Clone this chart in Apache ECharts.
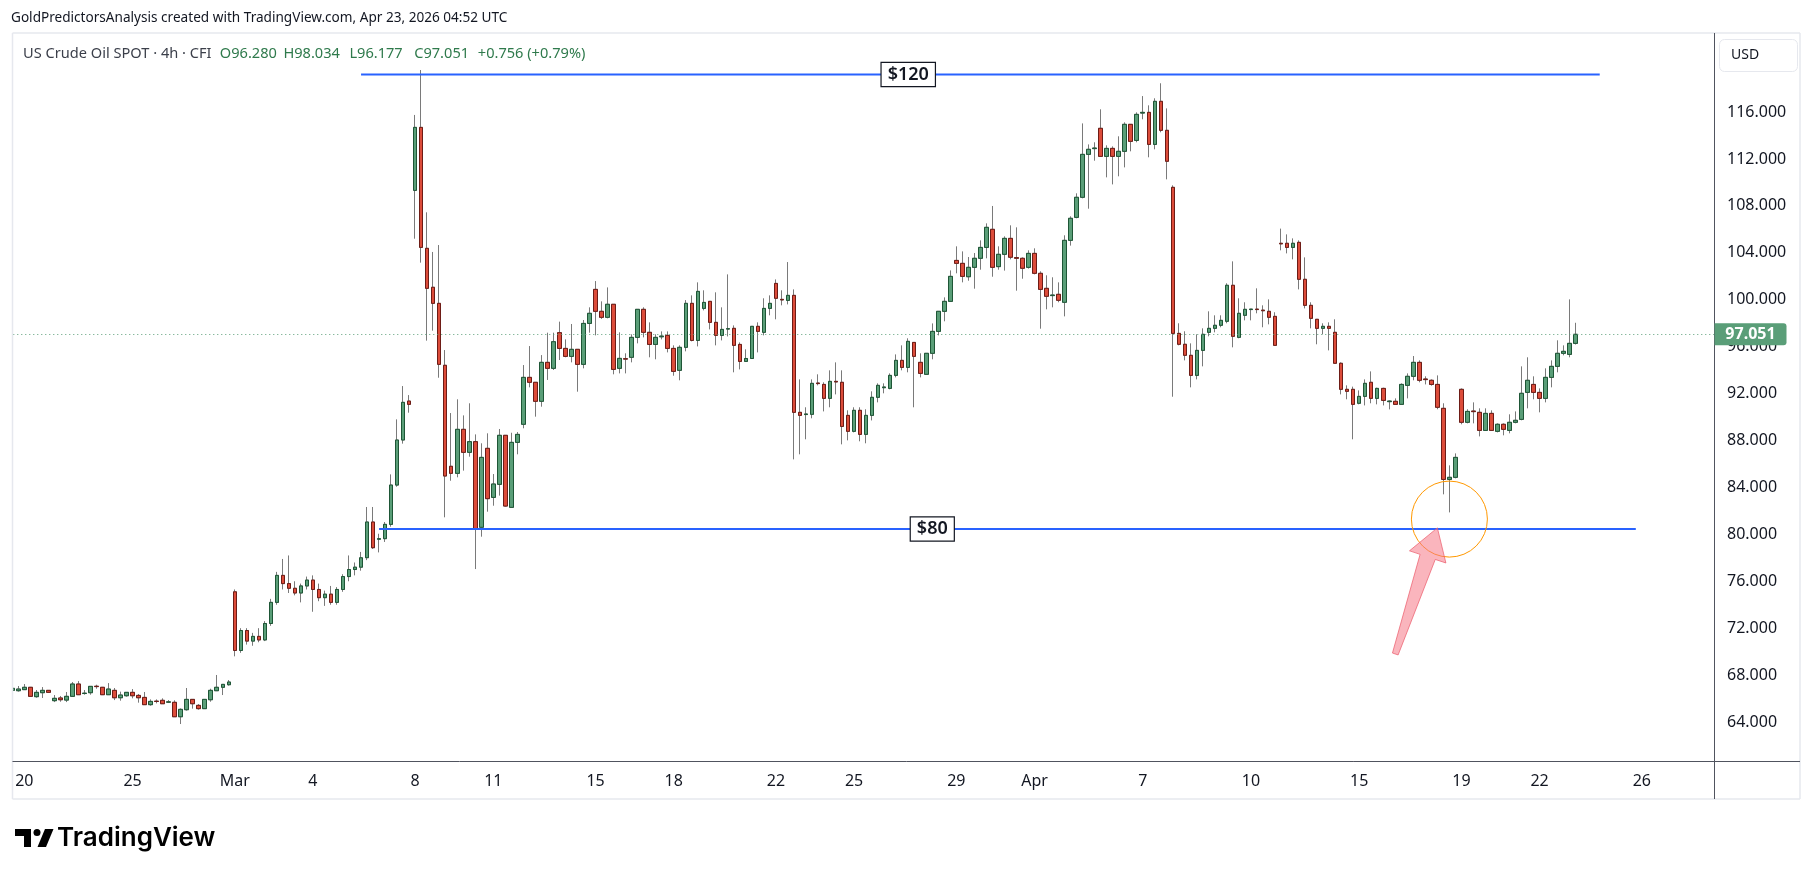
<!DOCTYPE html>
<html><head><meta charset="utf-8">
<script src="https://cdn.jsdelivr.net/npm/echarts@6/dist/echarts.min.js"></script>
<style>html,body{margin:0;padding:0;background:#fff;}#c{width:1814px;height:877px;}</style>
</head><body><div id="c"></div>
<script>
// ---- data (4h candles, bar index 0 = Feb 19/20) ----
const openP = [
66.70,66.67,66.76,66.96,66.16,66.50,66.70,65.82,66.05,65.87,
66.19,67.24,66.43,66.50,67.05,66.96,66.33,66.70,66.07,66.24,
66.53,66.27,66.10,65.48,65.78,65.85,65.69,65.68,64.45,65.05,
65.93,65.42,65.14,65.90,66.67,66.96,67.18,
75.1,70.1,71.8,70.9,71.3,71.0,72.4,74.2,76.5,75.8,
75.4,75.0,75.6,76.1,75.3,74.6,74.9,74.2,75.3,76.4,77.0,77.2,
78.01,81.05,79.58,79.63,80.85,84.20,88.04,91.36,109.32,114.69,
104.38,101.06,99.69,94.41,85.80,85.20,88.95,86.99,87.90,80.60,
87.33,83.15,84.26,88.44,82.30,87.84,89.38,93.38,92.96,91.34,
94.66,94.15,97.19,95.85,95.17,95.77,94.49,97.98,100.88,99.01,
98.50,99.61,94.15,94.97,95.09,96.79,99.18,97.22,96.19,96.84,
96.96,95.85,93.98,95.94,99.69,96.53,99.26,99.86,98.07,96.96,
97.50,97.56,96.19,94.74,94.99,97.73,97.22,99.26,101.39,100.03,
99.94,100.37,90.40,90.21,90.23,92.90,92.78,91.59,93.04,92.96,
90.14,88.78,90.57,88.52,90.14,91.68,92.50,92.44,93.55,94.83,
94.23,96.36,94.66,93.64,95.43,97.30,99.01,99.86,103.35,103.10,
101.96,102.76,103.53,104.46,106.00,102.82,103.87,105.23,103.59,103.53,
102.76,103.95,102.25,100.97,100.35,100.46,99.78,105.06,107.02,108.73,
112.39,112.88,114.61,112.22,112.90,112.22,112.65,114.95,113.58,115.91,
115.97,113.24,116.91,114.44,109.58,97.13,96.20,95.26,93.55,95.68,
97.22,97.56,97.82,98.16,101.23,96.79,98.67,99.16,99.20,99.11,
99.01,98.58,104.81,104.81,104.46,104.89,101.74,99.52,98.33,97.56,
97.73,97.22,94.58,92.36,92.36,91.17,91.76,92.96,91.59,92.44,
91.31,91.34,91.08,92.70,93.47,94.66,93.24,93.13,92.78,90.74,
84.68,84.86,92.36,89.55,90.51,90.40,88.86,90.31,88.78,89.38,
88.86,89.55,89.80,92.10,92.78,92.10,91.59,93.38,94.32,95.43,
95.34,96.28];
const highP = [
66.95,67.07,67.24,66.99,66.73,66.98,66.72,66.30,66.22,66.56,
67.41,67.49,66.73,67.04,67.18,66.99,67.32,66.90,66.59,66.55,
66.81,66.39,66.56,65.93,65.93,66.02,65.87,65.85,65.16,66.90,
65.95,65.53,65.95,66.84,68.01,67.23,67.58,
75.3,72.0,72.0,71.6,72.0,72.6,74.5,76.8,77.9,78.2,
76.0,75.8,76.4,76.5,75.8,75.2,75.6,75.5,76.6,78.2,77.6,78.5,
82.33,82.33,80.05,81.05,85.11,89.80,92.64,91.87,115.75,119.58,
107.45,104.07,104.66,95.71,90.34,91.51,90.14,91.17,88.52,87.76,
88.61,85.14,88.98,88.44,88.66,88.72,94.43,96.05,92.96,95.28,
97.19,97.19,98.13,96.62,97.93,95.77,98.27,99.35,101.59,99.86,
101.05,99.61,97.22,95.43,97.05,99.18,99.35,98.07,97.05,97.30,
97.30,96.11,96.11,99.97,100.37,101.48,100.80,99.86,100.63,99.35,
102.16,97.81,96.36,95.77,97.73,98.07,100.12,100.37,101.73,100.80,
103.21,100.88,93.21,90.83,93.21,93.64,92.96,93.98,94.66,93.98,
90.57,90.83,90.83,90.66,92.19,92.87,92.87,93.72,95.34,96.11,
96.71,96.36,95.43,95.43,97.98,99.01,100.20,102.50,104.55,104.12,
103.64,103.98,105.06,106.51,107.99,104.55,105.40,106.34,106.17,103.61,
104.21,104.38,102.42,102.08,101.91,101.48,105.49,107.11,109.07,115.03,
113.24,113.42,116.23,113.16,113.07,113.93,115.12,114.95,115.97,117.36,
116.57,117.17,118.45,116.31,109.75,97.99,97.31,96.28,97.05,97.56,
99.01,98.67,98.67,101.40,103.27,100.12,99.78,99.20,100.97,99.52,
100.03,98.93,106.06,105.57,105.23,105.06,103.61,99.78,98.33,97.99,
98.07,98.33,94.66,92.70,92.59,92.27,93.21,93.89,92.50,92.50,
91.42,91.59,92.87,93.72,95.20,94.83,93.47,93.21,93.55,91.17,
85.88,86.90,92.44,90.66,91.25,90.74,90.74,90.57,89.46,89.46,
90.23,90.48,94.32,95.09,93.47,92.44,94.15,94.83,96.54,96.11,
100.03,98.034];
const lowP = [
66.60,66.59,66.73,66.16,66.07,66.05,66.51,65.70,65.73,65.70,
66.16,66.30,66.33,66.33,66.84,66.30,66.30,65.87,65.82,66.16,
66.02,65.65,65.46,65.39,65.59,65.55,65.62,64.43,63.83,64.97,
65.14,65.05,65.12,65.73,66.64,66.30,67.10,
69.6,69.9,70.6,70.5,70.8,70.9,72.2,74.0,75.3,75.0,
74.8,74.2,75.3,73.4,74.3,73.9,74.0,74.0,75.1,76.0,76.5,76.9,
77.8,78.75,78.46,79.35,80.65,84.06,87.73,90.37,105.20,103.16,
96.51,97.36,93.35,81.45,84.57,84.86,85.43,86.62,77.04,79.80,
81.93,82.44,83.30,82.35,82.30,86.82,89.04,92.53,90.03,90.88,
93.16,94.01,94.86,95.09,94.66,92.16,94.15,97.19,96.96,98.36,
98.41,93.64,93.72,93.72,94.66,96.28,96.79,95.09,94.92,96.62,
95.51,93.52,93.13,95.60,96.45,96.02,99.09,97.47,96.11,96.53,
96.87,93.81,94.06,94.74,94.99,95.51,96.96,98.67,98.33,99.52,
99.60,86.39,86.82,88.10,89.89,92.70,90.48,90.83,91.93,87.67,
88.01,88.69,87.93,87.76,89.71,91.25,92.02,92.36,93.38,93.98,
93.81,90.83,93.38,93.64,94.92,96.96,98.16,99.86,102.25,101.48,
101.62,100.94,102.56,103.53,101.96,102.56,102.48,103.44,100.77,101.79,
102.65,102.16,97.53,99.18,99.35,99.78,98.58,104.61,106.94,108.64,
107.76,111.85,112.22,110.43,109.83,110.52,111.28,112.65,113.42,115.38,
112.14,112.82,114.27,110.26,91.73,96.11,94.83,92.53,93.21,94.32,
96.88,97.22,97.65,97.99,95.94,96.71,98.24,98.24,98.84,97.65,
97.90,96.11,104.21,103.95,103.44,100.88,99.26,97.56,96.20,97.05,
95.68,94.58,91.93,91.51,88.10,91.08,90.99,91.17,91.08,90.99,
90.65,91.08,91.08,91.59,93.13,92.96,92.78,92.67,90.66,83.41,
81.87,84.77,89.38,89.46,89.46,88.35,88.86,88.86,88.69,88.44,
88.61,89.46,89.72,90.74,91.51,90.40,91.25,92.53,93.81,95.26,
95.09,96.177];
const closeP = [
66.87,66.81,66.96,66.19,66.53,66.70,66.53,66.02,65.90,66.19,
67.24,66.33,66.46,67.04,67.02,66.33,66.81,66.07,66.30,66.53,
66.24,66.07,65.48,65.76,65.75,65.56,65.72,64.45,65.08,65.93,
65.56,65.14,65.93,66.70,66.96,67.21,67.41,
70.1,71.8,70.9,71.3,71.0,72.4,74.2,76.5,75.8,75.4,
75.0,75.6,76.1,75.3,74.6,74.9,74.2,75.3,76.4,77.0,77.2,78.0,
81.05,78.86,79.63,80.85,84.20,88.04,91.25,91.08,114.69,104.46,
100.97,99.69,94.49,84.97,85.20,88.95,86.99,87.90,80.48,86.56,
83.04,84.29,88.44,82.41,87.84,88.52,93.38,92.96,91.34,94.66,
94.15,96.42,95.85,95.17,95.77,94.49,97.98,98.84,99.01,98.50,
99.61,94.06,95.00,94.94,96.79,99.18,97.22,96.19,96.79,96.90,
95.85,93.89,95.94,99.69,96.53,100.71,99.77,98.07,96.96,97.47,
97.53,96.11,94.74,94.99,97.73,97.30,99.26,99.69,100.12,99.98,
100.37,90.40,90.14,90.26,92.87,92.85,91.59,93.04,92.99,89.20,
88.78,90.57,88.52,90.14,91.68,92.70,92.56,93.55,94.83,94.23,
96.45,95.17,93.72,95.43,97.30,99.01,99.86,101.99,103.10,101.99,
102.76,103.53,104.46,106.17,102.76,103.87,105.23,103.62,103.53,102.68,
103.95,102.25,100.88,100.29,100.40,99.95,105.06,106.94,108.73,112.39,
112.82,112.93,112.22,112.90,112.22,112.65,114.95,113.50,115.80,115.97,
113.24,116.91,114.44,111.80,97.13,96.20,95.26,93.55,95.68,97.05,
97.56,97.82,98.24,101.23,96.88,98.84,99.18,99.20,99.16,99.06,
98.50,96.11,104.76,104.46,104.81,101.74,99.52,98.41,97.56,97.73,
97.56,94.58,92.36,92.19,91.08,91.76,92.87,91.59,92.44,91.42,
91.36,91.08,92.78,93.47,94.66,93.13,93.19,92.78,90.83,84.68,
84.86,86.56,89.55,90.48,90.46,88.86,90.31,88.86,89.38,88.95,
89.55,89.72,92.02,93.13,92.10,91.59,93.38,94.32,95.43,95.60,
96.28,97.051];

// date tick labels: bar index + text
const tickBars  = [2, 20, 37, 50, 67, 80, 97, 110, 127, 140, 157, 170, 188, 206, 224, 241, 254, 271];
const tickTexts = ['20','25','Mar','4','8','11','15','18','22','25','29','Apr','7','10','15','19','22','26'];
const totalSlots = 284;          // bars + empty space to the right
const lastPrice = 97.051;

// legend items
const legendName = 'US Crude Oil SPOT · 4h · CFI';
const legendItems = ['O96.280', 'H98.034', 'L96.177', 'C97.051', '+0.756 (+0.79%)'];

// drawn annotations (data units: bar index, price)
const levelTop    = {price: 119.2, from: 57.9, to: 264.0, labelAt: 149.3, text: '$120'};
const levelBottom = {price: 80.45, from: 60.5, to: 270.0, labelAt: 153.4, text: '$80'};
const circleMark  = {bar: 239.15, price: 81.3};
const arrowMark   = {tipBar: 237.05, tipPrice: 80.55, tailBar: 230.2, tailPrice: 69.8};

// ---- build ----
const categories = Array.from({length: totalSlots}, (_, i) => String(i));
const tickMap = new Map(tickBars.map((b, i) => [b, tickTexts[i]]));
const wickData = openP.map((o, i) => [o, closeP[i], lowP[i], highP[i]]);
const bodyData = openP.map((o, i) => [o, closeP[i], Math.min(o, closeP[i]), Math.max(o, closeP[i])]);

const FONT = 'Noto Sans';
const chart = echarts.init(document.getElementById('c'), null, {renderer: 'canvas'});
chart.setOption({
  animation: false,
  backgroundColor: '#ffffff',
  grid: {left: 9.29, right: 97.02, top: 18.17, bottom: 108.05, containLabel: false},
  xAxis: {
    type: 'category', data: categories, boundaryGap: true,
    axisLine: {show: false}, axisTick: {show: false}, splitLine: {show: false},
    axisLabel: {
      interval: (idx) => tickMap.has(idx),
      formatter: (v, idx) => tickMap.get(idx) || '',
      color: '#131722', fontSize: 16, fontFamily: FONT, margin: 4
    }
  },
  yAxis: {
    type: 'value', position: 'right', min: 60, max: 124, interval: 4, scale: false,
    axisLine: {show: false}, axisTick: {show: false}, splitLine: {show: false},
    axisLabel: {
      formatter: (v) => (v >= 64 && v <= 116) ? v.toFixed(3) : '',
      color: '#131722', fontSize: 16, fontFamily: FONT, margin: 10
    }
  },
  series: [
    {
      type: 'candlestick', data: wickData, barWidth: 4, silent: true,
      itemStyle: {color: 'rgba(0,0,0,0)', color0: 'rgba(0,0,0,0)',
        borderColor: '#7a7a7a', borderColor0: '#7a7a7a', borderWidth: 1}
    },
    {
      type: 'candlestick', data: bodyData, barWidth: 4, silent: true,
      itemStyle: {color: '#5a9e78', color0: '#dc4c3a',
        borderColor: '#1e5636', borderColor0: '#6e1c16', borderWidth: 1},
      markLine: {
        silent: true, symbol: ['none', 'none'], label: {show: false},
        lineStyle: {type: [1, 3], color: '#5a9e78', width: 1},
        data: [{yAxis: lastPrice}]
      }
    }
  ]
});

function px(bar, price) { return chart.convertToPixel({gridIndex: 0}, [bar, price]); }

const els = [];
// clip left half-bar & panel frame
els.push({type: 'rect', shape: {x: 0, y: 30, width: 12.5, height: 740}, style: {fill: '#ffffff'}, z: 100});
const frame = '#e6e8ee';
els.push({type: 'line', shape: {x1: 12.5, y1: 33, x2: 1800, y2: 33}, style: {stroke: frame, lineWidth: 1.5}, z: 101});
els.push({type: 'line', shape: {x1: 12.5, y1: 33, x2: 12.5, y2: 799}, style: {stroke: frame, lineWidth: 1.5}, z: 101});
els.push({type: 'line', shape: {x1: 1800, y1: 33, x2: 1800, y2: 799}, style: {stroke: frame, lineWidth: 1.5}, z: 101});
els.push({type: 'line', shape: {x1: 12.5, y1: 799, x2: 1800, y2: 799}, style: {stroke: frame, lineWidth: 1.5}, z: 101});
// axes separators
els.push({type: 'line', shape: {x1: 1714.5, y1: 33, x2: 1714.5, y2: 799}, style: {stroke: '#50535e', lineWidth: 1}, z: 102});
els.push({type: 'line', shape: {x1: 12.5, y1: 761.5, x2: 1800, y2: 761.5}, style: {stroke: '#50535e', lineWidth: 1}, z: 102});
// header texts
els.push({type: 'text', x: 11, y: 18.5, z: 110, style: {text: 'GoldPredictorsAnalysis created with TradingView.com, Apr 23, 2026 04:52 UTC',
  fill: '#131722', font: '13.6px "Noto Sans"', textVerticalAlign: 'middle'}});
els.push({type: 'text', x: 23, y: 53.5, z: 110, style: {text: legendName, fill: '#3b3f4a', font: '14.6px "Noto Sans"', textVerticalAlign: 'middle'}});
const legendX = [219.8, 283.4, 349.4, 414.2, 477.8];
legendItems.forEach((t, i) => els.push({type: 'text', x: legendX[i], y: 53.5, z: 110,
  style: {text: t, fill: '#2f7a4c', font: '14.6px "Noto Sans"', textVerticalAlign: 'middle'}}));
// USD box
els.push({type: 'rect', shape: {x: 1719.5, y: 39.5, width: 78, height: 32, r: 5}, style: {fill: '#fff', stroke: '#e6e8ee', lineWidth: 1}, z: 110});
els.push({type: 'text', x: 1731, y: 55.5, z: 111, style: {text: 'USD', fill: '#131722', font: '14px "Noto Sans"', textVerticalAlign: 'middle'}});
// last price box
const lp = px(0, lastPrice);
els.push({type: 'rect', shape: {x: 1714.5, y: lp[1] - 11, width: 72, height: 22, r: [0, 3, 3, 0]}, style: {fill: '#5a9e78'}, z: 110});
els.push({type: 'text', x: 1750.5, y: lp[1], z: 111, style: {text: lastPrice.toFixed(3), fill: '#fff', font: 'bold 16px "Noto Sans"', textAlign: 'center', textVerticalAlign: 'middle'}});
// level lines + label boxes
[levelTop, levelBottom].forEach(l => {
  const a = px(l.from, l.price), b = px(l.to, l.price), m = px(l.labelAt, l.price);
  els.push({type: 'line', shape: {x1: a[0], y1: a[1], x2: b[0], y2: b[1]}, style: {stroke: '#2962ff', lineWidth: 2}, z: 90});
  els.push({type: 'text', x: m[0], y: m[1], z: 95, style: {text: l.text, fill: '#131722', font: '600 18px "Noto Sans"',
    textAlign: 'center', textVerticalAlign: 'middle', backgroundColor: '#fff', borderColor: '#131722', borderWidth: 1.2, padding: [3, 6, 2, 6]}});
});
// circle
const cc = px(circleMark.bar, circleMark.price);
els.push({type: 'circle', shape: {cx: cc[0], cy: cc[1], r: 38}, style: {fill: 'none', stroke: '#ff9800', lineWidth: 1}, z: 90});
// arrow
const T = px(arrowMark.tipBar, arrowMark.tipPrice), S = px(arrowMark.tailBar, arrowMark.tailPrice);
const dx = T[0] - S[0], dy = T[1] - S[1], L = Math.hypot(dx, dy), ux = dx / L, uy = dy / L, nx = -uy, ny = ux;
const hl = 30.6, hw = 19.2, sw = 8, tw = 3;
const B = [T[0] - ux * hl, T[1] - uy * hl];
els.push({type: 'polygon', z: 91, shape: {points: [
  T, [B[0] + nx * hw, B[1] + ny * hw], [B[0] + nx * sw, B[1] + ny * sw], [S[0] + nx * tw, S[1] + ny * tw],
  [S[0] - nx * tw, S[1] - ny * tw], [B[0] - nx * sw, B[1] - ny * sw], [B[0] - nx * hw, B[1] - ny * hw]]},
  style: {fill: 'rgba(245,120,135,0.55)', stroke: 'rgba(235,90,105,0.7)', lineWidth: 1}});
// TradingView logo
els.push({type: 'polygon', z: 110, shape: {points: [[15,829],[31,829],[31,847],[24,847],[24,836],[15,836]]}, style: {fill: '#000'}});
els.push({type: 'circle', z: 110, shape: {cx: 37, cy: 832.5, r: 3.5}, style: {fill: '#000'}});
els.push({type: 'polygon', z: 110, shape: {points: [[45,829],[53.5,829],[46,847],[37.5,847]]}, style: {fill: '#000'}});
els.push({type: 'text', x: 57, y: 838, z: 110, style: {text: 'TradingView', fill: '#000', font: '600 26px Inter', textVerticalAlign: 'middle'}});

chart.setOption({graphic: {elements: els}});
</script>
</body></html>
